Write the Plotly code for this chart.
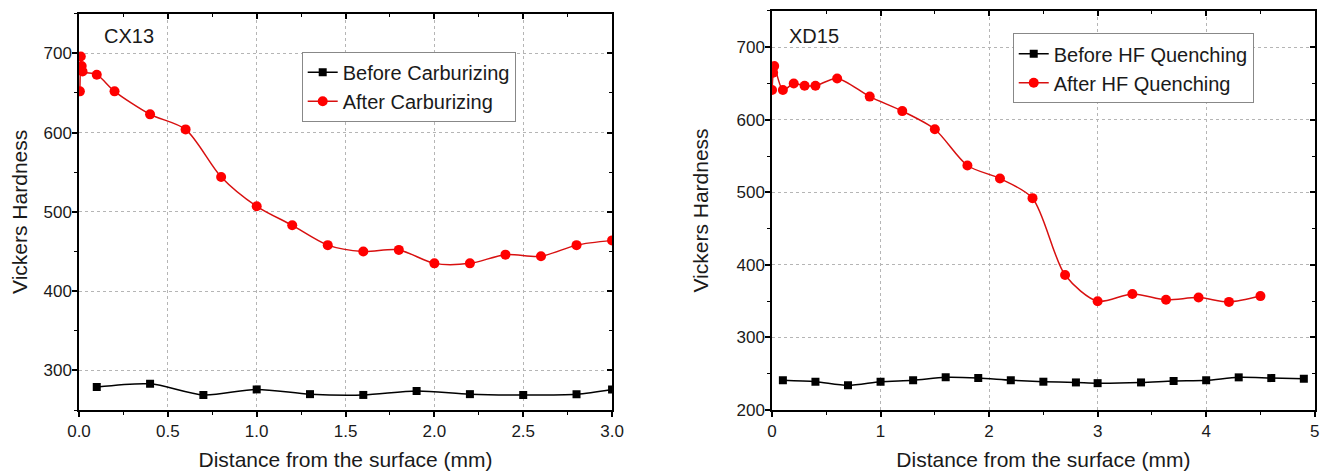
import plotly.graph_objects as go

# ---- CX13 (left panel) ----
cx_before_x = [0.1, 0.4, 0.7, 1.0, 1.3, 1.6, 1.9, 2.2, 2.5, 2.8, 3.0]
cx_before_y = [279, 283, 269, 276, 270, 269, 274, 270, 269, 270, 276]
cx_after_x = [0.005, 0.01, 0.015, 0.02, 0.1, 0.2, 0.4, 0.6, 0.8, 1.0, 1.2, 1.4, 1.6, 1.8, 2.0, 2.2, 2.4, 2.6, 2.8, 3.0]
cx_after_y = [652, 696, 684, 677, 673, 652, 623, 604, 544, 507, 483, 458, 450, 452, 435, 435, 446, 444, 458, 464]

# ---- XD15 (right panel) ----
xd_before_x = [0.1, 0.4, 0.7, 1.0, 1.3, 1.6, 1.9, 2.2, 2.5, 2.8, 3.0, 3.4, 3.7, 4.0, 4.3, 4.6, 4.9]
xd_before_y = [241, 239, 234, 239, 241, 245, 244, 241, 239, 238, 237, 238, 240, 241, 245, 244, 243]
xd_after_x = [0.0, 0.01, 0.02, 0.1, 0.2, 0.3, 0.4, 0.6, 0.9, 1.2, 1.5, 1.8, 2.1, 2.4, 2.7, 3.0, 3.32, 3.63, 3.93, 4.21, 4.5]
xd_after_y = [641, 665, 674, 641, 650, 647, 647, 657, 632, 612, 587, 537, 519, 492, 386, 350, 360, 352, 355, 349, 357]

names_left = ["Before Carburizing", "After Carburizing"]
names_right = ["Before HF Quenching", "After HF Quenching"]
panel_labels = ["CX13", "XD15"]
x_title = "Distance from the surface (mm)"
y_title = "Vickers Hardness"

FONT = "Arial, Liberation Sans, sans-serif"
BLACK = "#000000"
RED = "#ff0000"
LRED = "#d81010"
TXT = "#1a1a1a"

fig = go.Figure()

def add_pair(bx, by, ax, ay, names, xa, ya, lg):
    fig.add_trace(go.Scatter(x=bx, y=by, name=names[0], mode="lines+markers",
                             line=dict(color=BLACK, width=1.5, shape="spline", smoothing=0.8),
                             marker=dict(symbol="square", size=8, color=BLACK),
                             xaxis=xa, yaxis=ya, legend=lg))
    fig.add_trace(go.Scatter(x=ax, y=ay, name=names[1], mode="lines+markers",
                             line=dict(color=LRED, width=1.5, shape="spline", smoothing=0.8),
                             marker=dict(symbol="circle", size=10, color=RED),
                             xaxis=xa, yaxis=ya, legend=lg))

add_pair(cx_before_x, cx_before_y, cx_after_x, cx_after_y, names_left, "x", "y", "legend")
add_pair(xd_before_x, xd_before_y, xd_after_x, xd_after_y, names_right, "x2", "y2", "legend2")

# empty helper traces so the inward-ticked mirror axes (top/right) are drawn
fig.add_trace(go.Scatter(x=[None], y=[None], xaxis="x3", yaxis="y3", showlegend=False, hoverinfo="skip"))
fig.add_trace(go.Scatter(x=[None], y=[None], xaxis="x4", yaxis="y4", showlegend=False, hoverinfo="skip"))

tickfont = dict(family=FONT, size=17, color=TXT)
titlefont = dict(family=FONT, size=21, color=TXT)
grid = dict(showgrid=True, gridcolor="#b5b5b5", griddash="dot", gridwidth=1)

def xax(domain, rng, dtick, minor, anchor, tickformat):
    return dict(domain=domain, range=rng, dtick=dtick, tick0=0, anchor=anchor, automargin=False,
                showline=True, linecolor=BLACK, linewidth=1.5, mirror=True,
                ticks="outside", ticklen=5, tickwidth=1.5, tickcolor=BLACK,
                minor=dict(dtick=minor, ticks="outside", ticklen=3, tickwidth=1.2, tickcolor=BLACK, showgrid=False),
                tickfont=tickfont, tickformat=tickformat, zeroline=False,
                title=dict(text=x_title, font=titlefont, standoff=12),
                **grid)

def yax(domain, rng, tickvals, minor, anchor, standoff):
    return dict(domain=domain, range=rng, tickvals=tickvals, anchor=anchor, automargin=False,
                showline=True, linecolor=BLACK, linewidth=1.5, mirror=True,
                ticks="outside", ticklen=5, tickwidth=1.5, tickcolor=BLACK,
                minor=dict(dtick=minor, tick0=0, ticks="outside", ticklen=3, tickwidth=1.2, tickcolor=BLACK, showgrid=False),
                tickfont=tickfont, zeroline=False, ticklabelstandoff=-3,
                title=dict(text=y_title, font=titlefont, standoff=standoff),
                **grid)

def x_mirror(domain, rng, dtick, minor, overlay, anchor):
    return dict(domain=domain, range=rng, dtick=dtick, tick0=0, overlaying=overlay, anchor=anchor,
                side="top", showgrid=False, showticklabels=False, zeroline=False, automargin=False,
                showline=False, ticks="inside", ticklen=5, tickwidth=1.5, tickcolor=BLACK,
                minor=dict(dtick=minor, ticks="inside", ticklen=3, tickwidth=1.2, tickcolor=BLACK, showgrid=False))

def y_mirror(domain, rng, minor, overlay, anchor):
    return dict(domain=domain, range=rng, dtick=100, tick0=0, overlaying=overlay, anchor=anchor,
                side="right", showgrid=False, showticklabels=False, zeroline=False, automargin=False,
                showline=False, ticks="inside", ticklen=5, tickwidth=1.5, tickcolor=BLACK,
                minor=dict(dtick=minor, tick0=0, ticks="inside", ticklen=3, tickwidth=1.2, tickcolor=BLACK, showgrid=False))

# page body has an 8px margin; domains are compensated for it
LX = [0.0533, 0.4535]
LY = [0.1501, 0.988]
RX = [0.5736, 0.981]
RY = [0.1501, 0.9937]

legfont = dict(family=FONT, size=20, color=TXT)

fig.update_layout(
    width=1332, height=473,
    margin=dict(l=0, r=0, t=0, b=0),
    paper_bgcolor="white", plot_bgcolor="white",
    xaxis=xax(LX, [0, 3.0], 0.5, 0.25, "y", ".1f"),
    yaxis=yax(LY, [250, 750], [300, 400, 500, 600, 700], 50, "x", 10),
    xaxis2=xax(RX, [0, 5], 1, 0.5, "y2", "d"),
    yaxis2=yax(RY, [200, 750], [200, 300, 400, 500, 600, 700], 50, "x2", 22),
    xaxis3=x_mirror(LX, [0, 3.0], 0.5, 0.25, "x", "y3"),
    yaxis3=y_mirror(LY, [250, 750], 50, "y", "x3"),
    xaxis4=x_mirror(RX, [0, 5], 1, 0.5, "x2", "y4"),
    yaxis4=y_mirror(RY, [200, 750], 50, "y2", "x4"),
    legend=dict(x=0.2205, y=0.9076, xanchor="left", yanchor="top",
                bgcolor="white", bordercolor="#888", borderwidth=1,
                font=legfont, tracegroupgap=0),
    legend2=dict(x=0.7543, y=0.9465, xanchor="left", yanchor="top",
                 bgcolor="white", bordercolor="#888", borderwidth=1,
                 font=legfont, tracegroupgap=0),
    showlegend=True,
)

fig.add_annotation(x=0.0703, y=0.9408, xref="paper", yref="paper", text=panel_labels[0],
                   showarrow=False, xanchor="left", yanchor="middle", font=legfont)
fig.add_annotation(x=0.5846, y=0.9408, xref="paper", yref="paper", text=panel_labels[1],
                   showarrow=False, xanchor="left", yanchor="middle", font=legfont)

fig.write_html("out.html")
